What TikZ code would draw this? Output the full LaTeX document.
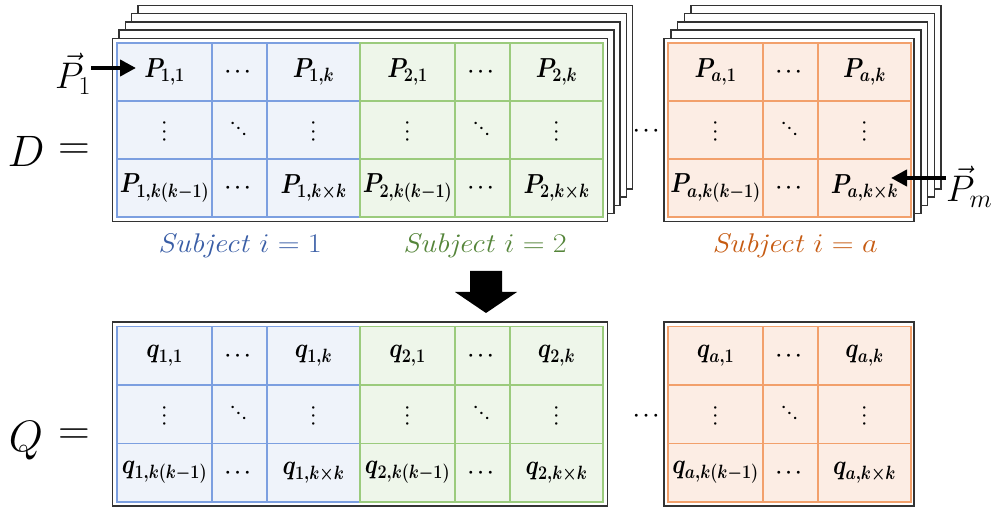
\RequirePackage{fix-cm}
\documentclass[tikz,border=0pt]{standalone}
\usepackage{amsmath,bm,graphicx}
\usetikzlibrary{arrows.meta}
\definecolor{blueFill}{HTML}{EFF3FA}
\definecolor{blueLine}{HTML}{7C9FE0}
\definecolor{blueText}{HTML}{3A5EA6}
\definecolor{greenFill}{HTML}{EEF6EA}
\definecolor{greenLine}{HTML}{9BCB7D}
\definecolor{greenText}{HTML}{55853A}
\definecolor{orangeFill}{HTML}{FCEDE4}
\definecolor{orangeLine}{HTML}{F2A06B}
\definecolor{orangeText}{HTML}{C65B12}
\newcommand\ct[1]{\scalebox{0.84}[1]{$\bm{#1}$}}
\newcommand\vdt{\rotatebox[origin=c]{90}{$\bm{\cdots}$}}
\newcommand\ddt{\rotatebox[origin=c]{-45}{$\bm{\cdots}$}}
\newcommand\lt[1]{\scalebox{1.12}[1]{#1}}
\tikzset{
  pagebox/.style={fill=white,draw=black!80,line width=1.5pt},
  cellt/.style={inner sep=0pt,font=\fontsize{27.5}{30}\selectfont},
  dotn/.style={inner sep=0pt,font=\fontsize{19}{22}\selectfont},
  rdotn/.style={inner sep=0pt,font=\fontsize{16}{19}\selectfont},
  lab/.style={inner sep=0pt,font=\fontsize{27}{30}\selectfont},
  bigsym/.style={inner sep=0pt,font=\fontsize{44}{48}\selectfont},
  vecl/.style={inner sep=0pt,font=\fontsize{37}{40}\selectfont},
  thickarrow/.style={line width=4pt,-{Triangle[length=16pt,width=16pt]}},
}
% #1 name, #2 X, #3 Ytop, #4 row height, #5 colour, #6 letter, #7 subject index
\newcommand\subjgrid[7]{%
  \fill[#5Fill] (#2,#3) rectangle (#2+243,#3+3*#4);
  \draw[#5Line,line width=1.1pt]
    (#2+95,#3) -- (#2+95,#3+3*#4)
    (#2+150,#3) -- (#2+150,#3+3*#4)
    (#2,#3+#4) -- (#2+243,#3+#4)
    (#2,#3+2*#4) -- (#2+243,#3+2*#4);
  \draw[#5Line,line width=1.6pt] (#2,#3) rectangle (#2+243,#3+3*#4);
  \node[cellt] (#1-11) at (#2+47.5,#3+0.5*#4) {\ct{#6_{#7,1}}};
  \node[dotn]  (#1-12) at (#2+122.5,#3+0.5*#4) {$\bm{\cdots}$};
  \node[cellt] (#1-13) at (#2+196.5,#3+0.5*#4) {\ct{#6_{#7,k}}};
  \node[rdotn] (#1-21) at (#2+47.5,#3+1.5*#4) {\vdt};
  \node[rdotn] (#1-22) at (#2+122.5,#3+1.5*#4) {\ddt};
  \node[rdotn] (#1-23) at (#2+196.5,#3+1.5*#4) {\vdt};
  \node[cellt] (#1-31) at (#2+47.5,#3+2.5*#4) {\ct{#6_{#7,k(k-1)}}};
  \node[dotn]  (#1-32) at (#2+122.5,#3+2.5*#4) {$\bm{\cdots}$};
  \node[cellt] (#1-33) at (#2+196.5,#3+2.5*#4) {\ct{#6_{#7,k\times k}}};
}
\begin{document}
\begin{tikzpicture}[x=1pt,y=-1pt]
\useasboundingbox (0,0) rectangle (998,510);
% ---------- stacked pages behind D ----------
\foreach \i in {4,3,2,1}{
  \draw[pagebox] (112.5+6.4*\i,38.5-8.3*\i) rectangle (607.5+6.3*\i,221.5-8.1*\i);
  \draw[pagebox] (664+6.8*\i,38.5-8.3*\i) rectangle (914+6.8*\i,221.5-8.1*\i);
}
\draw[pagebox] (112.5,38.5) rectangle (607.5,221.5);
\draw[pagebox] (664,38.5) rectangle (914,221.5);
\subjgrid{Pb}{117}{43}{58}{blue}{P}{1}
\subjgrid{Pg}{360}{43}{58}{green}{P}{2}
\subjgrid{Po}{668}{43}{58}{orange}{P}{a}
\node[dotn] (dotsD) at (648,131) {$\bm{\cdots}$};
% ---------- labels ----------
\node[lab,text=blueText] (labB) at (240,246) {\lt{\textit{Subject} $i=1$}};
\node[lab,text=greenText] (labG) at (485,246) {\lt{\textit{Subject} $i=2$}};
\node[lab,text=orangeText] (labO) at (795,246) {\lt{\textit{Subject} $i=a$}};
% ---------- D = ----------
\node[bigsym,anchor=base] (Dsym) at (26,167) {$D$};
\node[bigsym] (Deq) at (74,152) {$=$};
% ---------- vectors ----------
\node[vecl,anchor=base west] (p1lab) at (55,89) {$\vec{P}_1$};
\coordinate (p1tip) at (136,68);
\draw[thickarrow] (p1lab.east |- p1tip) -- (p1tip);
\node[vecl,anchor=base west] (pmlab) at (946,202) {$\vec{P}_m$};
\coordinate (pmtip) at (891,178);
\draw[thickarrow] (pmlab.west |- pmtip) -- (pmtip);
% ---------- down arrow ----------
\fill[black] (470,271) -- (502,271) -- (502,292) -- (517,292) -- (486,313)
  -- (455,292) -- (470,292) -- cycle;
% ---------- Q ----------
\draw[pagebox] (112.5,322) rectangle (607.5,506);
\draw[pagebox] (664,322) rectangle (914,506);
\subjgrid{Qb}{117}{326.5}{58.5}{blue}{q}{1}
\subjgrid{Qg}{360}{326.5}{58.5}{green}{q}{2}
\subjgrid{Qo}{668}{326.5}{58.5}{orange}{q}{a}
\node[dotn] (dotsQ) at (648,416) {$\bm{\cdots}$};
\node[bigsym,anchor=base] (Qsym) at (26,451) {$Q$};
\node[bigsym] (Qeq) at (74,437) {$=$};
\end{tikzpicture}
\end{document}
